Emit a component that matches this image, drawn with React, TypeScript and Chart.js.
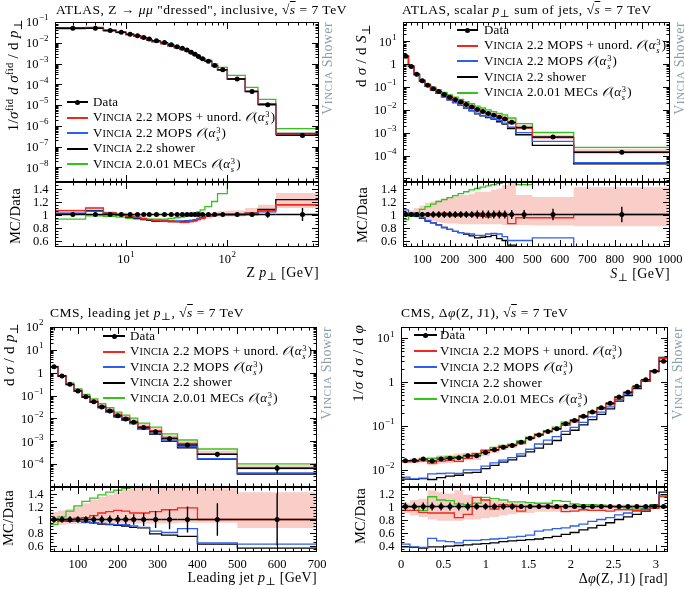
import React, { useEffect, useRef } from 'react';
import { Chart, registerables } from 'chart.js';

Chart.register(...registerables);

const PAGE_W = 685;
const PAGE_H = 589;
const SERIF = '"Liberation Serif", "DejaVu Serif", serif';

const COL_RED = '#f2281c';
const COL_BLUE = '#2d5ef2';
const COL_BLACK = '#000000';
const COL_GREEN = '#33c41c';
const COL_BAND = 'rgba(246,158,146,0.5)';
const COL_TAG = '#8fa0aa';

// ===== Panel A: ATLAS Z pT ("dressed" muons), log-log
const zptEdges = [2, 4, 6, 8, 10, 12, 14, 16, 18, 22, 26, 30, 34, 38, 42, 46, 50, 54, 60, 70, 80, 100, 150, 200, 300, 800];
const zptData = [0.05, 0.05, 0.039, 0.032, 0.026, 0.022, 0.018, 0.015, 0.0126, 0.0102, 0.008, 0.0065, 0.0054, 0.0045, 0.0035, 0.0028, 0.0022, 0.0017, 0.0013, 0.0008, 0.0005, 0.00018, 4.5e-5, 1.05e-5, 3.5e-7];
const zptErr = [0.01, 0.01, 0.01, 0.01, 0.01, 0.01, 0.01, 0.01, 0.01, 0.01, 0.01, 0.01, 0.01, 0.01, 0.01, 0.01, 0.01, 0.01, 0.012, 0.015, 0.015, 0.02, 0.03, 0.05, 0.1];
const zptRed = [1.06, 1.1, 1.02, 1.0, 0.97, 0.96, 0.94, 0.92, 0.91, 0.9, 0.9, 0.89, 0.88, 0.88, 0.89, 0.9, 0.92, 0.94, 0.97, 0.99, 1.0, 1.0, 1.02, 1.06, 1.15];
const zptBlue = [1.02, 1.05, 1.0, 0.99, 0.97, 0.95, 0.93, 0.92, 0.91, 0.91, 0.9, 0.9, 0.9, 0.9, 0.91, 0.92, 0.94, 0.95, 0.97, 0.99, 1.0, 1.0, 1.0, 1.04, 1.15];
const zptBlack = [1.01, 1.06, 1.02, 0.99, 0.96, 0.94, 0.92, 0.91, 0.9, 0.9, 0.89, 0.89, 0.89, 0.9, 0.9, 0.91, 0.93, 0.95, 0.97, 0.99, 1.0, 1.0, 1.02, 1.08, 1.23];
const zptGreen = [0.93, 0.98, 0.97, 0.96, 0.94, 0.93, 0.93, 0.93, 0.93, 0.93, 0.94, 0.95, 0.96, 0.98, 1.0, 1.02, 1.04, 1.07, 1.12, 1.2, 1.32, 1.5, 1.6, 1.8, 2.1];
const zptBandLo = [1.0, 1.05, 0.98, 0.97, 0.94, 0.93, 0.91, 0.9, 0.89, 0.88, 0.87, 0.87, 0.86, 0.86, 0.87, 0.88, 0.9, 0.91, 0.94, 0.96, 0.97, 0.97, 0.98, 1.03, 1.1];
const zptBandHi = [1.08, 1.12, 1.05, 1.03, 1.0, 0.98, 0.96, 0.95, 0.94, 0.93, 0.93, 0.92, 0.92, 0.92, 0.93, 0.94, 0.96, 0.98, 1.0, 1.03, 1.05, 1.06, 1.1, 1.15, 1.33];
const zptXTicks = [10, 100];
const zptYTicks = [1e-1, 1e-2, 1e-3, 1e-4, 1e-5, 1e-6, 1e-7, 1e-8];

// ===== Panel B: ATLAS scalar pT sum of jets
const sumEdges = [30, 50, 70, 90, 110, 130, 150, 170, 190, 210, 230, 250, 270, 290, 310, 330, 350, 370, 390, 410, 440, 500, 650, 1000];
const sumData = [2.2, 0.8, 0.36, 0.19, 0.12, 0.085, 0.063, 0.047, 0.036, 0.028, 0.022, 0.017, 0.0135, 0.0105, 0.0085, 0.007, 0.0058, 0.0048, 0.004, 0.0029, 0.0017, 0.00065, 0.00014];
const sumErr = [0.04, 0.04, 0.04, 0.04, 0.04, 0.05, 0.05, 0.05, 0.05, 0.05, 0.05, 0.05, 0.05, 0.06, 0.06, 0.06, 0.06, 0.06, 0.06, 0.07, 0.07, 0.09, 0.12];
const sumRed = [1.02, 1.0, 0.99, 1.0, 1.01, 0.99, 1.0, 1.02, 1.0, 0.98, 1.01, 1.0, 0.99, 1.02, 0.97, 0.96, 1.0, 1.02, 0.98, 0.86, 0.95, 0.95, 1.0];
const sumBlue = [1.07, 1.02, 0.98, 0.95, 0.91, 0.87, 0.84, 0.8, 0.77, 0.74, 0.72, 0.71, 0.7, 0.68, 0.68, 0.7, 0.71, 0.7, 0.66, 0.6, 0.6, 0.64, 0.35];
const sumBlack = [1.0, 1.0, 0.97, 0.94, 0.9, 0.87, 0.84, 0.8, 0.77, 0.74, 0.72, 0.7, 0.67, 0.64, 0.65, 0.66, 0.68, 0.63, 0.6, 0.53, 0.48, 0.43, 0.31];
const sumGreen = [0.92, 0.98, 1.03, 1.08, 1.12, 1.16, 1.2, 1.23, 1.26, 1.29, 1.32, 1.35, 1.38, 1.4, 1.42, 1.44, 1.46, 1.48, 1.5, 1.52, 1.46, 1.58, 1.65];
const sumBandLo = [0.97, 0.96, 0.95, 0.93, 0.92, 0.9, 0.88, 0.87, 0.86, 0.86, 0.85, 0.85, 0.85, 0.85, 0.85, 0.85, 0.85, 0.85, 0.84, 0.84, 0.84, 0.83, 0.82];
const sumBandHi = [1.04, 1.06, 1.1, 1.14, 1.18, 1.2, 1.22, 1.25, 1.27, 1.28, 1.3, 1.3, 1.32, 1.35, 1.35, 1.35, 1.38, 1.4, 1.45, 1.5, 1.3, 1.27, 1.42];
const sumXTicks = [100, 200, 300, 400, 500, 600, 700, 800, 900, 1000];
const sumYTicks = [10, 1, 1e-1, 1e-2, 1e-3, 1e-4];

// ===== Panel C: CMS leading jet pT
const jetEdges = [30, 50, 70, 90, 110, 130, 150, 170, 190, 210, 230, 250, 280, 310, 350, 400, 500, 700];
const jetData = [1.83, 0.72, 0.31, 0.16, 0.089, 0.054, 0.032, 0.021, 0.013, 0.0095, 0.0068, 0.004, 0.0026, 0.0013, 0.00069, 0.00027, 6.6e-5];
const jetErr = [0.05, 0.05, 0.05, 0.05, 0.05, 0.06, 0.06, 0.06, 0.07, 0.07, 0.08, 0.1, 0.13, 0.15, 0.2, 0.25, 0.4];
const jetRed = [1.0, 0.98, 1.0, 1.02, 1.03, 1.06, 1.1, 1.12, 1.14, 1.13, 1.1, 1.1, 1.12, 1.15, 1.18, 1.0, 1.0];
const jetBlue = [1.0, 1.0, 0.98, 0.97, 0.96, 0.95, 0.94, 0.93, 0.92, 0.92, 0.9, 0.88, 0.82, 0.8, 0.86, 0.64, 0.62];
const jetBlack = [1.0, 0.98, 0.97, 0.97, 0.96, 0.95, 0.93, 0.92, 0.91, 0.9, 0.88, 0.87, 0.78, 0.76, 0.74, 0.62, 0.56];
const jetGreen = [0.92, 1.04, 1.13, 1.21, 1.28, 1.33, 1.38, 1.42, 1.45, 1.48, 1.51, 1.55, 1.6, 1.62, 1.65, 1.7, 1.55];
const jetBandLo = [0.92, 0.92, 0.93, 0.93, 0.93, 0.94, 0.94, 0.94, 0.94, 0.94, 0.94, 0.94, 0.94, 0.94, 0.95, 0.95, 0.87];
const jetBandHi = [1.12, 1.14, 1.16, 1.2, 1.25, 1.3, 1.35, 1.38, 1.42, 1.46, 1.5, 1.5, 1.5, 1.5, 1.52, 1.48, 1.42];
const jetXTicks = [100, 200, 300, 400, 500, 600, 700];
const jetYTicks = [100, 10, 1, 1e-1, 1e-2, 1e-3, 1e-4];

// ===== Panel D: CMS delta phi(Z, J1)
const dphiEdges = [0, 0.105, 0.209, 0.314, 0.419, 0.524, 0.628, 0.733, 0.838, 0.942, 1.047, 1.152, 1.257, 1.361, 1.466, 1.571, 1.676, 1.78, 1.885, 1.99, 2.094, 2.199, 2.304, 2.409, 2.513, 2.618, 2.723, 2.827, 2.932, 3.037, 3.1416];
const dphiData = [0.0163, 0.0165, 0.0177, 0.016, 0.0177, 0.0185, 0.019, 0.021, 0.021, 0.025, 0.029, 0.033, 0.036, 0.043, 0.053, 0.063, 0.075, 0.087, 0.113, 0.134, 0.167, 0.21, 0.26, 0.33, 0.46, 0.59, 0.81, 1.14, 1.76, 3.0];
const dphiErr = [0.06, 0.06, 0.06, 0.06, 0.06, 0.06, 0.06, 0.06, 0.05, 0.05, 0.05, 0.05, 0.05, 0.04, 0.04, 0.04, 0.04, 0.03, 0.03, 0.03, 0.03, 0.02, 0.02, 0.02, 0.02, 0.02, 0.02, 0.01, 0.01, 0.01];
const dphiRed = [0.94, 0.94, 0.91, 0.9, 0.9, 0.9, 0.83, 0.88, 1.14, 1.1, 0.96, 1.03, 1.02, 0.93, 1.0, 1.0, 1.0, 0.98, 0.92, 0.93, 0.95, 0.94, 0.94, 0.93, 0.95, 0.95, 0.94, 0.95, 0.97, 1.16];
const dphiBlue = [0.42, 0.38, 0.37, 0.51, 0.47, 0.46, 0.44, 0.48, 0.48, 0.49, 0.5, 0.51, 0.53, 0.54, 0.56, 0.62, 0.64, 0.66, 0.67, 0.7, 0.73, 0.77, 0.8, 0.83, 0.87, 0.9, 0.93, 0.96, 1.0, 1.18];
const dphiBlack = [0.38, 0.37, 0.36, 0.38, 0.38, 0.39, 0.4, 0.41, 0.42, 0.43, 0.44, 0.46, 0.47, 0.48, 0.49, 0.5, 0.52, 0.54, 0.57, 0.6, 0.64, 0.67, 0.71, 0.75, 0.8, 0.84, 0.88, 0.93, 1.02, 1.22];
const dphiGreen = [1.0, 0.99, 0.94, 1.15, 1.1, 1.09, 1.04, 1.03, 1.05, 1.14, 1.12, 1.1, 1.07, 1.07, 1.06, 1.05, 1.05, 1.09, 1.08, 1.04, 1.03, 1.03, 1.02, 1.0, 0.99, 0.98, 0.96, 0.97, 1.03, 1.15];
const dphiBandLo = [0.9, 0.86, 0.84, 0.8, 0.78, 0.78, 0.78, 0.8, 0.8, 0.82, 0.84, 0.86, 0.88, 0.9, 0.9, 0.92, 0.92, 0.92, 0.93, 0.93, 0.93, 0.94, 0.94, 0.94, 0.95, 0.95, 0.96, 0.96, 0.97, 0.97];
const dphiBandHi = [1.05, 1.1, 1.12, 1.25, 1.22, 1.2, 1.25, 1.18, 1.15, 1.12, 1.1, 1.08, 1.06, 1.06, 1.05, 1.05, 1.04, 1.04, 1.04, 1.04, 1.03, 1.03, 1.03, 1.03, 1.03, 1.03, 1.03, 1.02, 1.02, 1.02];
const dphiXTicks = [0, 0.5, 1, 1.5, 2, 2.5, 3];
const dphiYTicks = [10, 1, 1e-1, 1e-2];

const ratioTicks = [0.6, 0.8, 1, 1.2, 1.4];
const dphiRatioTicks = [0.4, 0.6, 0.8, 1, 1.2];

// ===== helpers
type Lab = { v: number; t: string; e?: string };

function logLab(v: number): Lab {
  const ex = Math.round(Math.log10(v));
  if (ex === 0) return { v, t: '1' };
  return { v, t: '10', e: ex < 0 ? '\u2212' + String(-ex) : String(ex) };
}
function linLab(v: number): Lab {
  return { v, t: String(v) };
}
function logMajor(min: number, max: number) {
  const out: number[] = [];
  for (let d = Math.floor(Math.log10(min)); d <= Math.ceil(Math.log10(max)); d++) out.push(Math.pow(10, d));
  return out;
}
function logMinor(min: number, max: number) {
  const out: number[] = [];
  for (let d = Math.floor(Math.log10(min)); d <= Math.ceil(Math.log10(max)); d++)
    for (let k = 2; k <= 9; k++) out.push(k * Math.pow(10, d));
  return out;
}
function linTicks(min: number, max: number, step: number) {
  const out: number[] = [];
  const n0 = Math.ceil(min / step - 1e-9);
  for (let n = n0; n * step <= max + 1e-9; n++) out.push(+(n * step).toFixed(6));
  return out;
}

interface SubCfg {
  area: [number, number, number, number];
  ratio: boolean;
  xType: 'linear' | 'logarithmic';
  xMin: number; xMax: number;
  yType: 'linear' | 'logarithmic';
  yMin: number; yMax: number;
  edges: number[]; data: number[]; err: number[];
  red: number[]; blue: number[]; black: number[]; green: number[];
  bandLo: number[]; bandHi: number[];
  xMajor: number[]; xMinor: number[]; xLabels: Lab[]; xLabelY: number;
  yMajor: number[]; yMinor: number[]; yLabels: Lab[];
}

interface PanelIn {
  left: number; right: number; top: number; mid: number; bottom: number;
  xType: 'linear' | 'logarithmic'; xMin: number; xMax: number;
  yMin: number; yMax: number; rMin: number; rMax: number;
  edges: number[]; data: number[]; err: number[];
  red: number[]; blue: number[]; black: number[]; green: number[];
  bandLo: number[]; bandHi: number[];
  xTicks: number[]; xMinorStep: number; yTicks: number[]; rTicks: number[];
}

function buildSubs(p: PanelIn): SubCfg[] {
  const xMajor = p.xType === 'logarithmic' ? logMajor(p.xMin, p.xMax) : p.xTicks;
  const xMinor = p.xType === 'logarithmic' ? logMinor(p.xMin, p.xMax) : linTicks(p.xMin, p.xMax, p.xMinorStep);
  const common = {
    xType: p.xType, xMin: p.xMin, xMax: p.xMax,
    edges: p.edges, data: p.data, err: p.err,
    red: p.red, blue: p.blue, black: p.black, green: p.green,
    bandLo: p.bandLo, bandHi: p.bandHi, xMajor, xMinor,
  };
  const main: SubCfg = {
    ...common,
    area: [p.left, p.top, p.right, p.mid], ratio: false,
    yType: 'logarithmic', yMin: p.yMin, yMax: p.yMax,
    xLabels: [], xLabelY: 0,
    yMajor: logMajor(p.yMin, p.yMax), yMinor: logMinor(p.yMin, p.yMax),
    yLabels: p.yTicks.map(logLab),
  };
  const ratio: SubCfg = {
    ...common,
    area: [p.left, p.mid, p.right, p.bottom], ratio: true,
    yType: 'linear', yMin: p.rMin, yMax: p.rMax,
    xLabels: p.xTicks.map(p.xType === 'logarithmic' ? logLab : linLab), xLabelY: p.bottom + 13,
    yMajor: p.rTicks, yMinor: linTicks(p.rMin, p.rMax, 0.05),
    yLabels: p.rTicks.map(linLab),
  };
  return [main, ratio];
}

const SUBS: SubCfg[] = [
  ...buildSubs({
    left: 55, right: 319, top: 22, mid: 182, bottom: 247,
    xType: 'logarithmic', xMin: 2, xMax: 800, yMin: 2e-9, yMax: 0.1, rMin: 0.5, rMax: 1.5,
    edges: zptEdges, data: zptData, err: zptErr, red: zptRed, blue: zptBlue, black: zptBlack, green: zptGreen,
    bandLo: zptBandLo, bandHi: zptBandHi, xTicks: zptXTicks, xMinorStep: 0, yTicks: zptYTicks, rTicks: ratioTicks,
  }),
  ...buildSubs({
    left: 403, right: 670, top: 22, mid: 182, bottom: 247,
    xType: 'linear', xMin: 30, xMax: 1000, yMin: 7e-6, yMax: 70, rMin: 0.5, rMax: 1.5,
    edges: sumEdges, data: sumData, err: sumErr, red: sumRed, blue: sumBlue, black: sumBlack, green: sumGreen,
    bandLo: sumBandLo, bandHi: sumBandHi, xTicks: sumXTicks, xMinorStep: 20, yTicks: sumYTicks, rTicks: ratioTicks,
  }),
  ...buildSubs({
    left: 50, right: 317, top: 327, mid: 487, bottom: 552,
    xType: 'linear', xMin: 30, xMax: 700, yMin: 1e-5, yMax: 100, rMin: 0.5, rMax: 1.5,
    edges: jetEdges, data: jetData, err: jetErr, red: jetRed, blue: jetBlue, black: jetBlack, green: jetGreen,
    bandLo: jetBandLo, bandHi: jetBandHi, xTicks: jetXTicks, xMinorStep: 20, yTicks: jetYTicks, rTicks: ratioTicks,
  }),
  ...buildSubs({
    left: 401, right: 668, top: 327, mid: 487, bottom: 552,
    xType: 'linear', xMin: 0, xMax: 3.1416, yMin: 0.0041, yMax: 18, rMin: 0.3, rMax: 1.3,
    edges: dphiEdges, data: dphiData, err: dphiErr, red: dphiRed, blue: dphiBlue, black: dphiBlack, green: dphiGreen,
    bandLo: dphiBandLo, bandHi: dphiBandHi, xTicks: dphiXTicks, xMinorStep: 0.1, yTicks: dphiYTicks, rTicks: dphiRatioTicks,
  }),
];

function stepPoints(edges: number[], vals: number[]) {
  const pts: { x: number; y: number }[] = [];
  vals.forEach((v, i) => {
    pts.push({ x: edges[i], y: v }, { x: edges[i + 1], y: v });
  });
  return pts;
}

const TICK_FONT = 12.5;
const EXP_FONT = 9;

function drawLab(ctx: CanvasRenderingContext2D, l: Lab, x: number, y: number, align: 'right' | 'center') {
  ctx.font = `${TICK_FONT}px ${SERIF}`;
  const wb = ctx.measureText(l.t).width;
  let we = 0;
  if (l.e) {
    ctx.font = `${EXP_FONT}px ${SERIF}`;
    we = ctx.measureText(l.e).width + 0.5;
  }
  const total = wb + we;
  const sx = align === 'right' ? x - total : x - total / 2;
  ctx.textAlign = 'left';
  ctx.textBaseline = 'middle';
  ctx.font = `${TICK_FONT}px ${SERIF}`;
  ctx.fillText(l.t, sx, y);
  if (l.e) {
    ctx.font = `${EXP_FONT}px ${SERIF}`;
    ctx.fillText(l.e, sx + wb + 0.5, y - 5);
  }
}

function rivetPlugin(s: SubCfg, base: number[], centers: number[]) {
  return {
    id: 'rivetFrame',
    afterDatasetsDraw(chart: any) {
      const { ctx, chartArea: a } = chart;
      const xs = chart.scales.x;
      const ys = chart.scales.y;
      ctx.save();
      ctx.beginPath();
      ctx.rect(a.left, a.top, a.right - a.left, a.bottom - a.top);
      ctx.clip();
      ctx.strokeStyle = '#000';
      ctx.lineWidth = 1.4;
      base.forEach((v, i) => {
        const y = ys.getPixelForValue(v);
        const e = s.err[i] * v;
        const xc = xs.getPixelForValue(centers[i]);
        ctx.beginPath();
        ctx.moveTo(xs.getPixelForValue(s.edges[i]), y);
        ctx.lineTo(xs.getPixelForValue(s.edges[i + 1]), y);
        ctx.moveTo(xc, ys.getPixelForValue(v - e));
        ctx.lineTo(xc, ys.getPixelForValue(v + e));
        ctx.stroke();
      });
      ctx.restore();
    },
    afterDraw(chart: any) {
      const { ctx, chartArea: a } = chart;
      const xs = chart.scales.x;
      const ys = chart.scales.y;
      ctx.save();
      ctx.strokeStyle = '#000';
      ctx.lineWidth = 1;
      const seg = (x1: number, y1: number, x2: number, y2: number) => {
        ctx.beginPath();
        ctx.moveTo(x1, y1);
        ctx.lineTo(x2, y2);
        ctx.stroke();
      };
      const xt = (vals: number[], len: number) =>
        vals.forEach((v) => {
          let p = xs.getPixelForValue(v);
          if (p < a.left + 1 || p > a.right - 1) return;
          p = Math.round(p) + 0.5;
          seg(p, a.bottom, p, a.bottom - len);
          seg(p, a.top, p, a.top + len);
        });
      const yt = (vals: number[], len: number) =>
        vals.forEach((v) => {
          let p = ys.getPixelForValue(v);
          if (p < a.top + 1 || p > a.bottom - 1) return;
          p = Math.round(p) + 0.5;
          seg(a.left, p, a.left + len, p);
          seg(a.right, p, a.right - len, p);
        });
      xt(s.xMinor, 3.5);
      xt(s.xMajor, 7);
      yt(s.yMinor, 3.5);
      yt(s.yMajor, 7);
      ctx.strokeRect(a.left + 0.5, a.top + 0.5, a.right - a.left - 1, a.bottom - a.top - 1);
      ctx.fillStyle = '#000';
      s.xLabels.forEach((l) => drawLab(ctx, l, xs.getPixelForValue(l.v), s.xLabelY, 'center'));
      s.yLabels.forEach((l) => drawLab(ctx, l, a.left - 6.5, ys.getPixelForValue(l.v) + 1, 'right'));
      ctx.restore();
    },
  };
}

function makeChart(canvas: HTMLCanvasElement, s: SubCfg) {
  const [L, T, R, B] = s.area;
  const base = s.ratio ? s.data.map(() => 1) : s.data;
  const sc = (r: number[]) => r.map((v, i) => v * base[i]);
  const centers = s.data.map((_, i) => (s.edges[i] + s.edges[i + 1]) / 2);
  const line = (label: string, vals: number[], color: string, order: number) => ({
    label,
    data: stepPoints(s.edges, sc(vals)),
    borderColor: color,
    borderWidth: 1.3,
    pointRadius: 0,
    fill: false,
    tension: 0,
    order,
  });
  const cfg: any = {
    type: 'line',
    data: {
      datasets: [
        { label: 'bandLo', data: stepPoints(s.edges, sc(s.bandLo)), borderColor: 'rgba(0,0,0,0)', borderWidth: 0, pointRadius: 0, fill: false, order: 10 },
        { label: 'bandHi', data: stepPoints(s.edges, sc(s.bandHi)), borderColor: 'rgba(0,0,0,0)', borderWidth: 0, backgroundColor: COL_BAND, pointRadius: 0, fill: '-1', order: 9 },
        line('green', s.green, COL_GREEN, 4),
        line('black', s.black, COL_BLACK, 3),
        line('blue', s.blue, COL_BLUE, 2),
        line('red', s.red, COL_RED, 1),
        {
          label: 'Data',
          data: centers.map((x, i) => ({ x, y: base[i] })),
          showLine: false,
          pointRadius: 2.5,
          pointBackgroundColor: '#000',
          pointBorderColor: '#000',
          pointBorderWidth: 0,
          order: 0,
        },
      ],
    },
    options: {
      animation: false,
      responsive: false,
      maintainAspectRatio: false,
      devicePixelRatio: 1,
      events: [],
      layout: { padding: { left: L, top: T, right: PAGE_W - R, bottom: PAGE_H - B } },
      scales: {
        x: { type: s.xType, min: s.xMin, max: s.xMax, display: false, bounds: 'data' },
        y: { type: s.yType, min: s.yMin, max: s.yMax, display: false, bounds: 'data' },
      },
      plugins: { legend: { display: false }, tooltip: { enabled: false }, title: { display: false } },
    },
    plugins: [rivetPlugin(s, base, centers)],
  };
  return new Chart(canvas, cfg);
}

function ChartCanvas({ cfg }: { cfg: SubCfg }) {
  const ref = useRef<HTMLCanvasElement | null>(null);
  useEffect(() => {
    if (!ref.current) return;
    const ch = makeChart(ref.current, cfg);
    return () => ch.destroy();
  }, [cfg]);
  return <canvas ref={ref} width={PAGE_W} height={PAGE_H} style={{ position: 'absolute', left: 0, top: 0, width: PAGE_W, height: PAGE_H }} />;
}

// ===== text helpers
const Sup = ({ children }: { children: React.ReactNode }) => (
  <span style={{ fontSize: '0.7em', position: 'relative', top: '-0.45em' }}>{children}</span>
);
const Sub = ({ children }: { children: React.ReactNode }) => (
  <span style={{ fontSize: '0.78em', position: 'relative', top: '0.3em' }}>{children}</span>
);
const Rts = () => (
  <span>
    √<span style={{ textDecoration: 'overline' }}><i>s</i></span>
  </span>
);
const Vincia = () => (
  <span>
    V<span style={{ fontSize: '0.8em' }}>INCIA</span>
  </span>
);
const OAs = () => (
  <span>
    <span style={{ fontStyle: 'italic' }}>𝒪</span>(<i>α</i>
    <span style={{ display: 'inline-flex', flexDirection: 'column', fontSize: 8.5, lineHeight: '8px', verticalAlign: 4, marginLeft: 0.5, marginRight: 1 }}>
      <span>3</span>
      <i>s</i>
    </span>
    )
  </span>
);

function Rot({ x, top, size = 15, color = '#000', spacing = 0.3, children }: { x: number; top: number; size?: number; color?: string; spacing?: number; children: React.ReactNode }) {
  return (
    <div
      style={{
        position: 'absolute', left: x, top, transform: 'rotate(-90deg) translateX(-100%)', transformOrigin: '0 0',
        whiteSpace: 'nowrap', fontSize: size, lineHeight: `${size + 1}px`, color, letterSpacing: spacing,
      }}
    >
      {children}
    </div>
  );
}

function Txt({ left, right, top, size = 13.5, spacing = 0.5, children }: { left?: number; right?: number; top: number; size?: number; spacing?: number; children: React.ReactNode }) {
  return (
    <div style={{ position: 'absolute', left, right, top, fontSize: size, lineHeight: `${size + 3}px`, whiteSpace: 'nowrap', letterSpacing: spacing }}>
      {children}
    </div>
  );
}

const legendEntries = [
  { color: '#000', data: true, label: <>Data</> },
  { color: COL_RED, data: false, label: <><Vincia /> 2.2 MOPS + unord. <OAs /></> },
  { color: COL_BLUE, data: false, label: <><Vincia /> 2.2 MOPS <OAs /></> },
  { color: COL_BLACK, data: false, label: <><Vincia /> 2.2 shower</> },
  { color: COL_GREEN, data: false, label: <><Vincia /> 2.0.01 MECs <OAs /></> },
];

function Legend({ lx0, lx1, tx, y0, dy }: { lx0: number; lx1: number; tx: number; y0: number; dy: number }) {
  return (
    <>
      {legendEntries.map((e, i) => {
        const y = y0 + i * dy;
        return (
          <React.Fragment key={i}>
            <div style={{ position: 'absolute', left: lx0, top: y - 1, width: lx1 - lx0, height: 2, background: e.color }} />
            {e.data && (
              <div style={{ position: 'absolute', left: (lx0 + lx1) / 2 - 2.5, top: y - 2.5, width: 5, height: 5, borderRadius: 3, background: '#000' }} />
            )}
            <div style={{ position: 'absolute', left: tx, top: y - 8.5, fontSize: 13, lineHeight: '16px', whiteSpace: 'nowrap', letterSpacing: 0.2 }}>{e.label}</div>
          </React.Fragment>
        );
      })}
    </>
  );
}

const VinciaTag = ({ x, top }: { x: number; top: number }) => (
  <Rot x={x} top={top} size={14} color={COL_TAG} spacing={0.4}>
    <Vincia /> Shower
  </Rot>
);

export default function App() {
  return (
    <div
      style={{
        position: 'fixed', left: 0, top: 0, width: PAGE_W, height: PAGE_H, background: '#fff',
        overflow: 'hidden', fontFamily: SERIF, color: '#000',
      }}
    >
      {SUBS.map((c, i) => (
        <ChartCanvas key={i} cfg={c} />
      ))}

      {/* Panel A */}
      <Txt left={56} top={2}>ATLAS, Z → <i>μμ</i> "dressed", inclusive, <Rts /> = 7 TeV</Txt>
      <Rot x={5} top={19}>
        1/<i>σ</i><Sup>fid</Sup> <i>d</i> <i>σ</i><Sup>fid</Sup> / d <i>p</i><Sub>⊥</Sub>
      </Rot>
      <Rot x={8} top={188} size={14.5}>MC/Data</Rot>
      <Txt right={PAGE_W - 319} top={264} size={14} spacing={0.4}>Z <i>p</i><Sub>⊥</Sub> [GeV]</Txt>
      <VinciaTag x={320} top={22} />
      <Legend lx0={67} lx1={88} tx={93} y0={102} dy={15.5} />

      {/* Panel B */}
      <Txt left={402} top={2}>ATLAS, scalar <i>p</i><Sub>⊥</Sub> sum of jets, <Rts /> = 7 TeV</Txt>
      <Rot x={353} top={24}>d <i>σ</i> / d <i>S</i><Sub>⊥</Sub></Rot>
      <Rot x={355} top={187} size={14.5}>MC/Data</Rot>
      <Txt right={PAGE_W - 670} top={265} size={14} spacing={0.4}><i>S</i><Sub>⊥</Sub> [GeV]</Txt>
      <VinciaTag x={672} top={22} />
      <Legend lx0={457} lx1={478} tx={484} y0={30} dy={15.7} />

      {/* Panel C */}
      <Txt left={50} top={305}>CMS, leading jet <i>p</i><Sub>⊥</Sub>, <Rts /> = 7 TeV</Txt>
      <Rot x={1} top={323}>d <i>σ</i> / d <i>p</i><Sub>⊥</Sub></Rot>
      <Rot x={1} top={490} size={14.5}>MC/Data</Rot>
      <Txt right={PAGE_W - 317} top={569} size={14} spacing={0.3}>Leading jet <i>p</i><Sub>⊥</Sub> [GeV]</Txt>
      <VinciaTag x={319} top={327} />
      <Legend lx0={103} lx1={125} tx={130} y0={336} dy={15.6} />

      {/* Panel D */}
      <Txt left={401} top={305}>CMS, Δ<i>φ</i>(Z, J1), <Rts /> = 7 TeV</Txt>
      <Rot x={350} top={325}>1/<i>σ</i> <i>d σ</i> / d <i>φ</i></Rot>
      <Rot x={353} top={488} size={14.5}>MC/Data</Rot>
      <Txt right={PAGE_W - 668} top={570} size={14} spacing={0.3}>Δ<i>φ</i>(Z, J1) [rad]</Txt>
      <VinciaTag x={670} top={327} />
      <Legend lx0={414} lx1={437} tx={440} y0={335} dy={16} />
    </div>
  );
}
